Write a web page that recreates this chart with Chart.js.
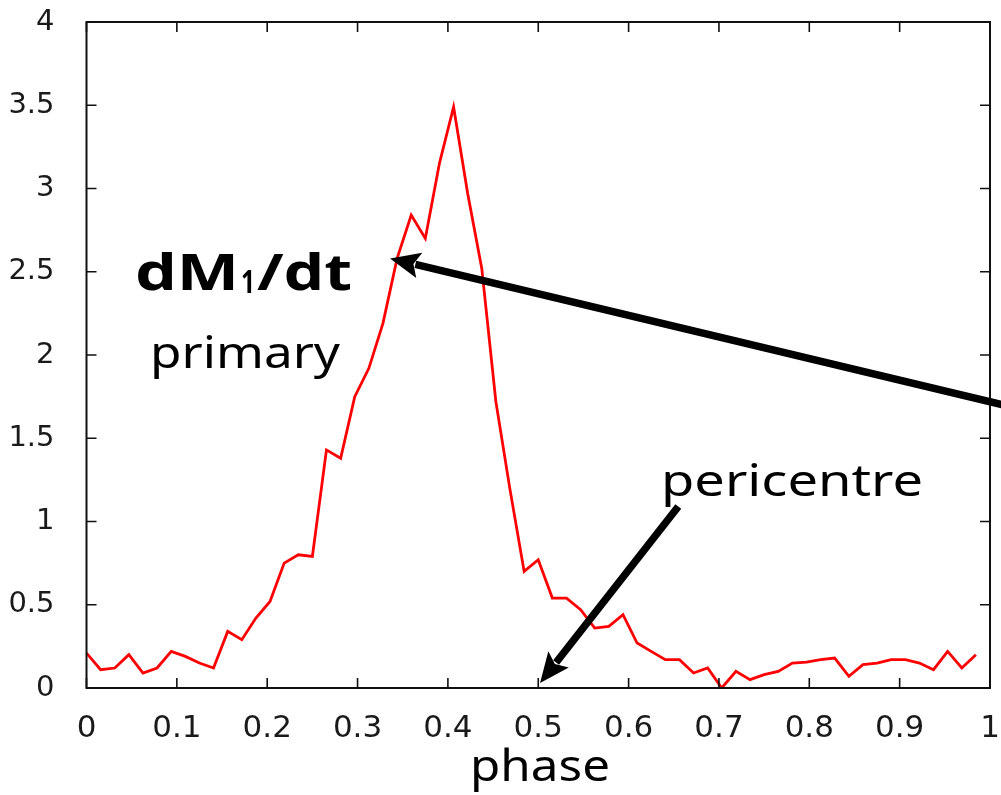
<!DOCTYPE html>
<html>
<head>
<meta charset="utf-8">
<title>dM1/dt vs phase</title>
<script src="https://cdn.jsdelivr.net/npm/chart.js@4/dist/chart.umd.min.js"></script>
<style>
  html, body { margin: 0; padding: 0; background: #fff; }
  canvas { display: block; }
</style>
</head>
<body>
<canvas id="c" width="1001" height="795"></canvas>
<script>
// Orbital phase samples (64 bins over one orbit)
const phase = [
  0.0000, 0.0156, 0.0313, 0.0469, 0.0625, 0.0781, 0.0938, 0.1094,
  0.1250, 0.1406, 0.1563, 0.1719, 0.1875, 0.2031, 0.2188, 0.2344,
  0.2500, 0.2656, 0.2813, 0.2969, 0.3125, 0.3281, 0.3438, 0.3594,
  0.3750, 0.3906, 0.4063, 0.4219, 0.4375, 0.4531, 0.4688, 0.4844,
  0.5000, 0.5156, 0.5313, 0.5469, 0.5625, 0.5781, 0.5938, 0.6094,
  0.6250, 0.6406, 0.6563, 0.6719, 0.6875, 0.7031, 0.7188, 0.7344,
  0.7500, 0.7656, 0.7813, 0.7969, 0.8125, 0.8281, 0.8438, 0.8594,
  0.8750, 0.8906, 0.9063, 0.9219, 0.9375, 0.9531, 0.9688, 0.9844
];

// Accretion rate onto the primary, dM1/dt
const accretionRate = [
  0.21, 0.11, 0.12, 0.20, 0.09, 0.12, 0.22, 0.19,
  0.15, 0.12, 0.34, 0.29, 0.42, 0.52, 0.75, 0.80,
  0.79, 1.43, 1.38, 1.75, 1.92, 2.19, 2.58, 2.84,
  2.70, 3.15, 3.49, 2.97, 2.52, 1.72, 1.19, 0.70,
  0.77, 0.54, 0.54, 0.47, 0.36, 0.37, 0.44, 0.27,
  0.22, 0.17, 0.17, 0.09, 0.12, 0.00, 0.10, 0.05,
  0.08, 0.10, 0.15, 0.155, 0.17, 0.18, 0.07, 0.14,
  0.15, 0.17, 0.17, 0.15, 0.11, 0.22, 0.12, 0.20
];

const xTicks = [0, 0.1, 0.2, 0.3, 0.4, 0.5, 0.6, 0.7, 0.8, 0.9, 1];
const xTickLabels = ['0', '0.1', '0.2', '0.3', '0.4', '0.5', '0.6', '0.7', '0.8', '0.9', '1'];
const yTicks = [0, 0.5, 1, 1.5, 2, 2.5, 3, 3.5, 4];
const yTickLabels = ['0', '0.5', '1', '1.5', '2', '2.5', '3', '3.5', '4'];

// Arrow annotations in data coordinates: [tailX, tailY, tipX, tipY]
const rateArrow = [1.03, 1.68, 0.336, 2.58];
const pericentreArrow = [0.655, 1.09, 0.502, 0.03];

const INK = '#111';
const LABEL_FONT = 'Noto Sans, DejaVu Sans, sans-serif';

// Box around the plot with inward ticks on all four sides
const framePlugin = {
  id: 'frame',
  afterDatasetsDraw(chart) {
    const { ctx, chartArea: a, scales: { x, y } } = chart;
    ctx.save();
    ctx.strokeStyle = INK;
    ctx.lineWidth = 2;
    ctx.strokeRect(a.left, a.top, a.right - a.left, a.bottom - a.top);
    ctx.lineWidth = 1.6;
    ctx.beginPath();
    const len = 10;
    x.ticks.forEach(t => {
      const p = x.getPixelForValue(t.value);
      ctx.moveTo(p, a.bottom); ctx.lineTo(p, a.bottom - len);
      ctx.moveTo(p, a.top); ctx.lineTo(p, a.top + len);
    });
    y.ticks.forEach(t => {
      const p = y.getPixelForValue(t.value);
      ctx.moveTo(a.left, p); ctx.lineTo(a.left + len, p);
      ctx.moveTo(a.right, p); ctx.lineTo(a.right - len, p);
    });
    ctx.stroke();
    ctx.restore();
  }
};

function drawArrow(ctx, x1, y1, x2, y2) {
  const ang = Math.atan2(y2 - y1, x2 - x1);
  const head = 30, half = 13, shaft = 7.5;
  const bx = x2 - Math.cos(ang) * (head - 4);
  const by = y2 - Math.sin(ang) * (head - 4);
  ctx.save();
  ctx.strokeStyle = '#000';
  ctx.fillStyle = '#000';
  ctx.lineWidth = shaft;
  ctx.lineCap = 'butt';
  ctx.beginPath();
  ctx.moveTo(x1, y1);
  ctx.lineTo(bx, by);
  ctx.stroke();
  const hx = x2 - Math.cos(ang) * head;
  const hy = y2 - Math.sin(ang) * head;
  const nx = -Math.sin(ang), ny = Math.cos(ang);
  ctx.beginPath();
  ctx.moveTo(x2, y2);
  ctx.lineTo(hx + nx * half, hy + ny * half);
  ctx.lineTo(x2 - Math.cos(ang) * (head - 6), y2 - Math.sin(ang) * (head - 6));
  ctx.lineTo(hx - nx * half, hy - ny * half);
  ctx.closePath();
  ctx.fill();
  ctx.restore();
}

// Text squeezed or stretched horizontally to a given width
function fitText(ctx, text, x, baseline, font, width) {
  ctx.save();
  ctx.font = font;
  ctx.fillStyle = '#000';
  ctx.textBaseline = 'alphabetic';
  ctx.textAlign = 'left';
  const w = ctx.measureText(text).width;
  ctx.translate(x, baseline);
  ctx.scale(width / w, 1);
  ctx.fillText(text, 0, 0);
  ctx.restore();
}

const annotationPlugin = {
  id: 'notes',
  afterDraw(chart) {
    const { ctx, scales: { x, y } } = chart;
    const px = v => x.getPixelForValue(v);
    const py = v => y.getPixelForValue(v);
    drawArrow(ctx, px(rateArrow[0]), py(rateArrow[1]), px(rateArrow[2]), py(rateArrow[3]));
    drawArrow(ctx, px(pericentreArrow[0]), py(pericentreArrow[1]), px(pericentreArrow[2]), py(pericentreArrow[3]));

    fitText(ctx, 'dM', 135, 290, 'bold 50px ' + LABEL_FONT, 104);
    fitText(ctx, '1', 241, 293, 'bold 32px ' + LABEL_FONT, 14);
    fitText(ctx, '/dt', 257, 290, 'bold 50px ' + LABEL_FONT, 95);
    fitText(ctx, 'primary', 150, 368, '44px ' + LABEL_FONT, 190);
    fitText(ctx, 'pericentre', 661, 496, '44px ' + LABEL_FONT, 262);
    fitText(ctx, 'phase', 470, 781, '44px ' + LABEL_FONT, 140);
  }
};

new Chart(document.getElementById('c'), {
  type: 'line',
  data: {
    datasets: [{
      data: phase.map((p, i) => ({ x: p, y: accretionRate[i] })),
      borderColor: '#ff0000',
      borderWidth: 2.8,
      pointRadius: 0,
      tension: 0,
      fill: false
    }]
  },
  options: {
    responsive: false,
    animation: false,
    layout: { padding: { left: 0, right: 11, top: 22, bottom: 47 } },
    plugins: { legend: { display: false }, tooltip: { enabled: false } },
    scales: {
      x: {
        type: 'linear',
        min: 0,
        max: 1,
        grid: { display: false },
        border: { display: false },
        afterBuildTicks: s => { s.ticks = xTicks.map(v => ({ value: v })); },
        afterFit: s => { s.height = 60; s.paddingLeft = 0; s.paddingRight = 0; },
        ticks: {
          autoSkip: false,
          maxRotation: 0,
          padding: 14,
          color: '#1a1a1a',
          font: { family: 'DejaVu Sans', size: 31 },
          callback: (v) => xTickLabels[xTicks.indexOf(v)]
        }
      },
      y: {
        type: 'linear',
        min: 0,
        max: 4,
        grid: { display: false },
        border: { display: false },
        afterBuildTicks: s => { s.ticks = yTicks.map(v => ({ value: v })); },
        afterFit: s => { s.width = 86.5; s.paddingTop = 0; s.paddingBottom = 0; },
        ticks: {
          autoSkip: false,
          padding: 24,
          color: '#1a1a1a',
          font: { family: 'DejaVu Sans', size: 29 },
          callback: (v) => yTickLabels[yTicks.indexOf(v)]
        }
      }
    }
  },
  plugins: [framePlugin, annotationPlugin]
});
</script>
</body>
</html>
